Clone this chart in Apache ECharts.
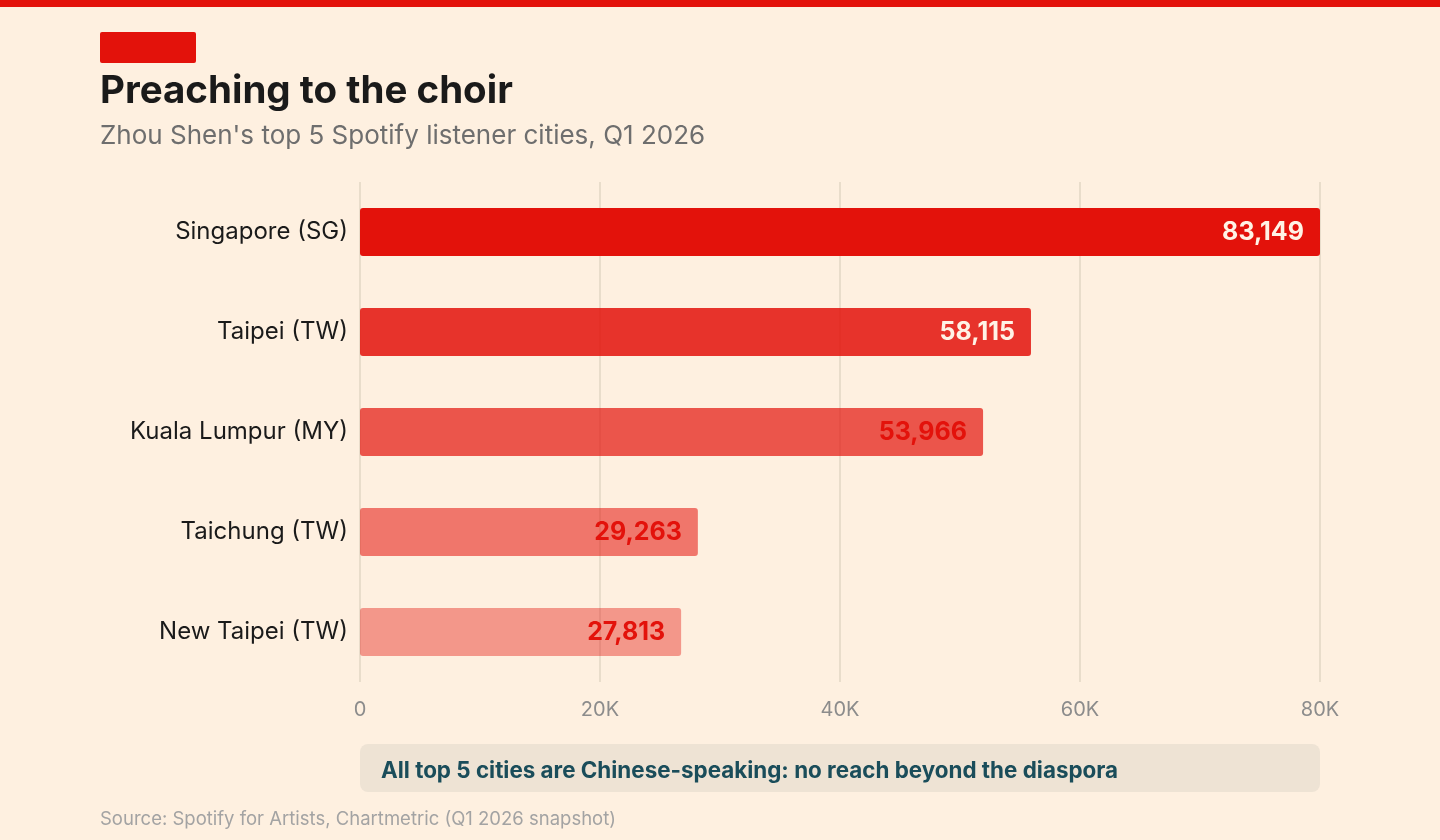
<!DOCTYPE html>
<html lang="en">
<head>
  <meta charset="UTF-8">
  <title>Preaching to the choir</title>
  <script src="https://cdn.jsdelivr.net/npm/echarts@6/dist/echarts.min.js"></script>
  <style>
    html, body { margin: 0; padding: 0; background: #FEF0E0; }
    #main { width: 1440px; height: 840px; }
  </style>
</head>
<body>
  <div id="main"></div>
  <script>
    // data
    var cities = ['Singapore (SG)', 'Taipei (TW)', 'Kuala Lumpur (MY)', 'Taichung (TW)', 'New Taipei (TW)']
    var listeners = [83149, 58115, 53966, 29263, 27813]
    var barAlpha = [1, 0.85, 0.7, 0.55, 0.4]
    var labelWhite = [true, true, false, false, false]
    var tickLabels = ['0', '20K', '40K', '60K', '80K']

    var RED = '#E3120B'
    var font = 'Inter, "Noto Sans", sans-serif'
    var axisMax = Math.max.apply(null, listeners)

    var chart = echarts.init(document.getElementById('main'))

    chart.setOption({
      backgroundColor: '#FEF0E0',
      textStyle: { fontFamily: font },
      grid: { left: 360, right: 120, top: 182, bottom: 158 },
      xAxis: {
        type: 'value',
        min: 0,
        max: axisMax,
        interval: axisMax / 4,
        axisLine: { show: false },
        axisTick: { show: false },
        splitLine: { show: true, lineStyle: { color: '#E9DDCB', width: 2 } },
        axisLabel: {
          color: '#8C8C8C', fontSize: 20, margin: 18, fontFamily: font,
          formatter: function (v, i) { return tickLabels[i] }
        }
      },
      yAxis: {
        type: 'category',
        inverse: true,
        data: cities,
        axisLine: { show: false },
        axisTick: { show: false },
        axisLabel: { color: '#1A1A1A', fontSize: 24, margin: 12, fontFamily: font, padding: [0, 0, 3, 0] }
      },
      series: [{
        type: 'bar',
        barWidth: 48,
        z: 1,
        data: listeners.map(function (v, i) {
          return {
            value: v,
            itemStyle: { color: 'rgba(227,18,11,' + barAlpha[i] + ')', borderRadius: 3 },
            label: { color: labelWhite[i] ? '#FFF3E6' : RED }
          }
        }),
        label: {
          show: true,
          position: 'insideRight',
          distance: 16,
          fontSize: 25,
          fontWeight: 'bold',
          fontFamily: font,
          formatter: function (p) { return p.value.toLocaleString('en-US') }
        }
      }],
      graphic: [
        { type: 'rect', shape: { x: 0, y: 0, width: 1440, height: 7 }, style: { fill: RED } },
        { type: 'rect', shape: { x: 100, y: 32, width: 96, height: 31, r: 2 }, style: { fill: RED } },
        {
          type: 'text', left: 100, top: 72,
          style: { text: 'Preaching to the choir', fill: '#1A1A1A', font: 'bold 38.5px ' + font }
        },
        {
          type: 'text', left: 100, top: 123,
          style: { text: "Zhou Shen's top 5 Spotify listener cities, Q1 2026", fill: '#6E6E6E', font: '26px ' + font }
        },
        { type: 'rect', shape: { x: 360, y: 744, width: 960, height: 48, r: 8 }, style: { fill: '#EEE3D4' } },
        {
          type: 'text', left: 381, top: 760,
          style: { text: 'All top 5 cities are Chinese-speaking: no reach beyond the diaspora', fill: '#1A4D5A', font: 'bold 22.4px ' + font }
        },
        {
          type: 'text', left: 100, top: 810,
          style: { text: 'Source: Spotify for Artists, Chartmetric (Q1 2026 snapshot)', fill: '#A3A3A3', font: '18.5px ' + font }
        }
      ]
    })
  </script>
</body>
</html>
